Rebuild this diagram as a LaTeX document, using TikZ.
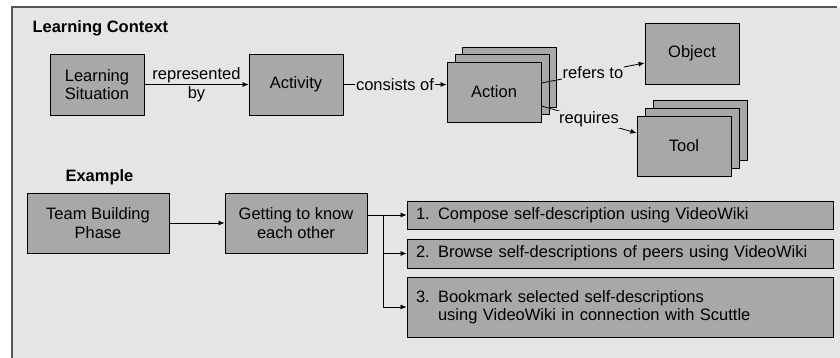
\documentclass[tikz,border=0pt]{standalone}
\usepackage{fontspec}
\setmainfont{Liberation Sans}
\usetikzlibrary{arrows.meta}
\definecolor{frame_gray}{RGB}{85,85,85}
\definecolor{light_gray}{RGB}{229,229,229}
\definecolor{box_gray}{RGB}{168,168,168}

\tikzset{
    box/.style={shape=rectangle, draw=black, fill=box_gray, line width=0.9pt,
        minimum width=94pt, minimum height=61pt, align=center, inner sep=2pt,
        font=\fontsize{16.5}{18.5}\selectfont},
    widebox/.style={box, minimum width=142pt, minimum height=60pt},
    taskbox/.style={box, text width=408pt, inner xsep=9pt, align=left},
    heading/.style={anchor=west, font=\fontsize{16.5}{18.5}\selectfont\bfseries},
    tag/.style={fill=light_gray, inner sep=1pt, font=\fontsize{16.5}{18.5}\selectfont},
    note/.style={align=center, inner sep=0pt, font=\fontsize{16.5}{18.5}\selectfont},
    link/.style={draw=black, line width=0.8pt, -{Latex[length=6pt,width=5pt]}}
}

\begin{document}
\begin{tikzpicture}[x=1pt, y=-1pt]
    \useasboundingbox (0,0) rectangle (840,357);
    \fill[light_gray] (12,7) rectangle (850,365);
    \draw[frame_gray, line width=1.5pt] (12,365) -- (12,7) -- (837,7);

    % learning context
    \node[heading] (context) at (29,28) {Learning Context};
    \node[box] (situation) at (97,84.5) {Learning\\Situation};
    \node[box] (activity) at (296,84.5) {Activity};
    \node[box, minimum height=60pt] (action3) at (509.5,77) {};
    \node[box, minimum height=60pt] (action2) at (502,84) {};
    \node[box, minimum height=60pt] (action) at (494,92) {Action};
    \node[box] (object) at (692,53.5) {Object};
    \node[box, minimum height=60pt] (tool3) at (700,130) {};
    \node[box, minimum height=60pt] (tool2) at (692,138) {};
    \node[box, minimum height=60pt] (tool) at (684,146) {Tool};

    \draw[link] (situation) -- node[note] {represented\\by} (activity);
    \draw[link] (activity.east) -- node[tag] {consists of} (activity.east -| action.west);
    \draw[link] ([yshift=9pt]action.east) -- node[tag] {refers to} ([yshift=-9.5pt]object.west);
    \draw[link] ([yshift=-14pt]action.east) -- node[tag] {requires} ([yshift=13pt]tool.west);

    % example
    \node[heading] (example) at (62,177) {Example};
    \node[widebox] (phase) at (98,223) {Team Building\\Phase};
    \node[widebox] (know) at (296,223) {Getting to know\\each other};
    \node[taskbox, minimum height=28pt] (task1) at (620,215) {1. Compose self-description using VideoWiki};
    \node[taskbox, minimum height=29pt] (task2) at (620,253.5) {2. Browse self-descriptions of peers using VideoWiki};
    \node[taskbox, minimum height=60pt] (task3) at (620,307) {3. Bookmark selected self-descriptions\\\phantom{3. }using VideoWiki in connection with Scuttle};
    \coordinate (fork) at (383,215);

    \draw[link] (phase) -- (know);
    \draw[link] ([yshift=8pt]know.east) -- (task1.west);
    \draw[link] (fork) |- (task2.west);
    \draw[link] (fork) |- (task3.west);
\end{tikzpicture}
\end{document}
